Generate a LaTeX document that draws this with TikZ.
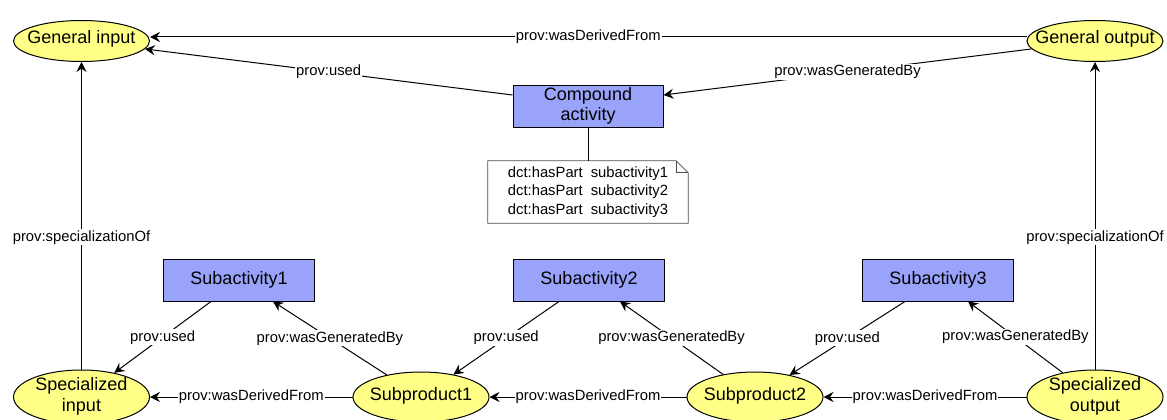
\documentclass[tikz,border=0pt]{standalone}
\usepackage{fontspec}
\setmainfont{Liberation Sans}
\usetikzlibrary{arrows.meta,shapes.geometric}
\definecolor{ylw}{RGB}{255,255,136}
\definecolor{blu}{RGB}{153,163,250}
\tikzset{
 ent/.style={ellipse, draw, fill=ylw, line width=1pt, inner sep=0pt, minimum width=136pt},
 etext/.style={inner sep=0pt, font=\fontsize{18}{21}\selectfont, align=center},
 act/.style={rectangle, draw, fill=blu, line width=1pt, minimum width=151pt, minimum height=42pt, inner sep=0pt, font=\fontsize{18}{20}\selectfont, align=center},
 rel/.style={line width=1pt, -{Stealth[length=10pt,width=10pt,inset=3.5pt]}},
 plain/.style={line width=1pt},
 lbl/.style={fill=white, inner sep=1pt, font=\fontsize{14.8}{17}\selectfont},
 notebox/.style={inner sep=0pt, minimum width=200pt, minimum height=62pt, align=left, font=\fontsize{14.8}{18.5}\selectfont},
}
\begin{document}
\begin{tikzpicture}[x=1pt,y=-1pt]
\useasboundingbox (0,0) rectangle (1167,420);
\clip (0,0) rectangle (1167,420);
% nodes
\node[ent, minimum height=41pt] (gi) at (81.5,41) {};
\node[etext] (git) at (81.5,39) {General input};
\node[ent, minimum height=41pt] (go) at (1095,41) {};
\node[etext] (got) at (1095,39) {General output};
\node[act, minimum width=150pt] (ca) at (588,106) {Compound\\activity};
\node[notebox] (note) at (588,192) {dct:hasPart\hspace{8pt}subactivity1\\dct:hasPart\hspace{8pt}subactivity2\\dct:hasPart\hspace{8pt}subactivity3};
\draw[line width=0.8pt, draw=black!70] (note.south west) -- (note.north west) -- ([xshift=-12pt]note.north east) -- ([yshift=-12pt]note.north east) -- (note.south east) -- cycle;
\draw[line width=0.8pt, draw=black!70] ([xshift=-12pt]note.north east) |- ([yshift=-12pt]note.north east);
\node[act] (s1) at (239,280) {Subactivity1};
\node[act] (s2) at (589,280) {Subactivity2};
\node[act] (s3) at (938,280) {Subactivity3};
\node[ent, minimum height=54pt] (si) at (81.5,397) {};
\node[etext] (sit) at (81.5,396) {Specialized\\input};
\node[ent, minimum height=50pt] (sp1) at (421,397) {};
\node[etext] (sp1t) at (421,396) {Subproduct1};
\node[ent, minimum height=50pt] (sp2) at (755,397) {};
\node[etext] (sp2t) at (755,396) {Subproduct2};
\node[ent, minimum height=54pt] (so) at (1095,397) {};
\node[etext] (sot) at (1095,396) {Specialized\\output};
% top edges
\draw[rel] ([yshift=4pt]go.west) -- node[lbl]{prov:wasDerivedFrom} ([yshift=4pt]gi.east);
\draw[rel] ([yshift=11pt]ca.west) -- node[lbl]{prov:used} (gi);
\draw[rel] (go) -- node[lbl]{prov:wasGeneratedBy} ([yshift=11pt]ca.east);
\draw[plain] (ca.south) -- (note.north);
\draw[rel] (si.north) -- node[lbl, pos=0.43]{prov:specializationOf} (gi.south);
\draw[rel] (so.north) -- node[lbl, pos=0.43]{prov:specializationOf} (go.south);
% bottom edges
\draw[rel] ([xshift=-28pt]s1.south) -- node[lbl]{prov:used} (si);
\draw[rel] (sp1) -- node[lbl]{prov:wasGeneratedBy} ([xshift=34pt]s1.south);
\draw[rel] (sp1) -- node[lbl]{prov:wasDerivedFrom} (si);
\draw[rel] ([xshift=-30pt]s2.south) -- node[lbl]{prov:used} (sp1);
\draw[rel] (sp2) -- node[lbl]{prov:wasGeneratedBy} ([xshift=31pt]s2.south);
\draw[rel] (sp2) -- node[lbl]{prov:wasDerivedFrom} (sp1);
\draw[rel] ([xshift=-33pt]s3.south) -- node[lbl]{prov:used} (sp2);
\draw[rel] (so) -- node[lbl]{prov:wasGeneratedBy} ([xshift=30pt]s3.south);
\draw[rel] (so) -- node[lbl]{prov:wasDerivedFrom} (sp2);
\end{tikzpicture}
\end{document}
